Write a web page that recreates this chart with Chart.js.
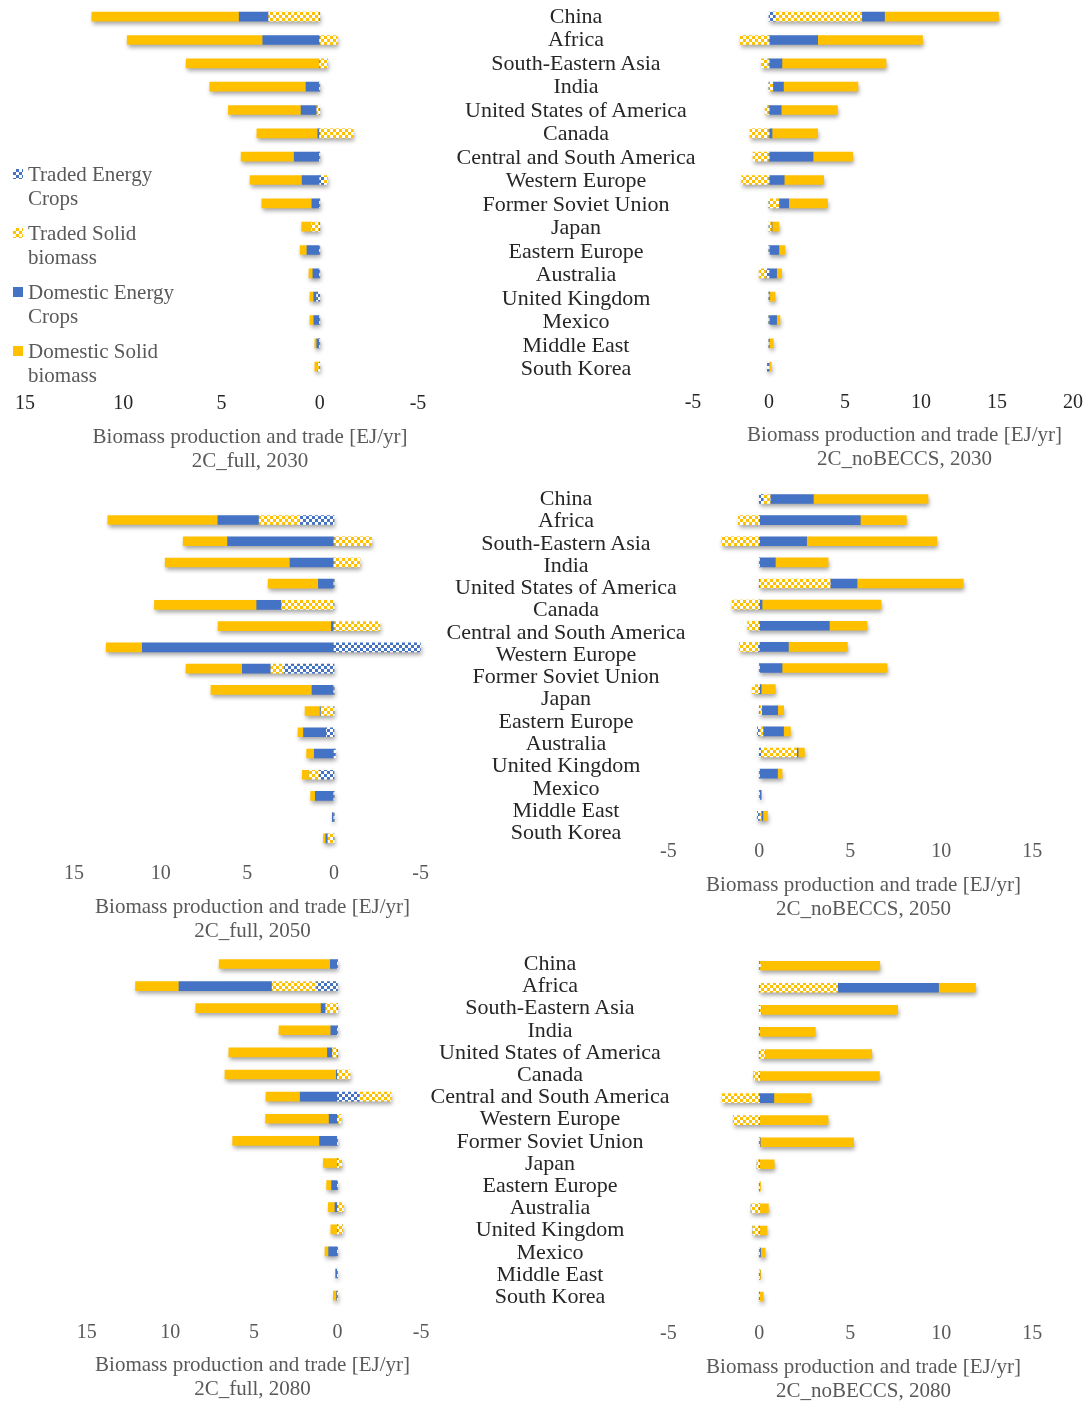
<!DOCTYPE html>
<html>
<head>
<meta charset="utf-8">
<script src="https://cdn.jsdelivr.net/npm/chart.js@4.4.1/dist/chart.umd.min.js"></script>
<style>
  html, body { margin: 0; padding: 0; background: #fff; }
  #page { position: relative; width: 1091px; height: 1405px; overflow: hidden; }
  #page canvas { position: absolute; }
  .region { position: absolute; width: 400px; text-align: center; font: 22px/24px "Liberation Serif", "Times New Roman", serif; color: #262626; white-space: nowrap; }
  .legend-item { position: absolute; left: 28px; font: 21px/24px "Liberation Serif", "Times New Roman", serif; color: #595959; }
  .legend-box { position: absolute; left: 13px; width: 10px; height: 10px; }
</style>
</head>
<body>
<div id="page"></div>
<script>
const regions = ["China", "Africa", "South-Eastern Asia", "India", "United States of America", "Canada",
  "Central and South America", "Western Europe", "Former Soviet Union", "Japan", "Eastern Europe",
  "Australia", "United Kingdom", "Mexico", "Middle East", "South Korea"];
const seriesNames = ["Traded Energy Crops", "Traded Solid biomass", "Domestic Energy Crops", "Domestic Solid biomass"];

// 2C_full, 2030
const full2030TradedEnergy   = [0, 0, 0, 0, 0, 0, 0, -0.2, 0, 0, 0, 0, 0.15, 0, 0, 0];
const full2030TradedSolid    = [2.6, -0.9, -0.4, 0, 0.15, -1.7, 0, -0.2, 0, 0.42, 0, 0, 0, 0, 0, 0.1];
const full2030DomesticEnergy = [1.5, 2.9, 0, 0.7, 0.8, 0.1, 1.3, 0.9, 0.4, 0, 0.65, 0.35, 0.15, 0.3, 0.15, 0];
const full2030DomesticSolid  = [7.5, 6.9, 6.8, 4.9, 3.7, 3.1, 2.7, 2.65, 2.55, 0.5, 0.35, 0.2, 0.2, 0.2, 0.1, 0.15];

// 2C_noBECCS, 2030
const nobeccs2030TradedEnergy   = [0.4, 0, 0, 0, 0, 0, 0, 0, 0, 0, 0, -0.15, 0, 0, 0, -0.1];
const nobeccs2030TradedSolid    = [5.7, -1.9, -0.5, 0.25, -0.25, -1.25, -1.05, -1.8, 0.65, 0.15, 0, -0.5, 0, 0, 0, 0];
const nobeccs2030DomesticEnergy = [1.5, 3.2, 0.85, 0.7, 0.8, 0.2, 2.9, 1.0, 0.65, 0.05, 0.65, 0.5, 0.05, 0.5, 0.03, 0];
const nobeccs2030DomesticSolid  = [7.5, 6.9, 6.85, 4.9, 3.7, 3.0, 2.6, 2.6, 2.55, 0.45, 0.4, 0.33, 0.35, 0.22, 0.25, 0.15];

// 2C_full, 2050
const full2050TradedEnergy   = [1.95, 0, 0, 0, 0, 0, -5.1, 2.87, 0, 0, 0.43, -0.07, 0.85, 0, 0, 0];
const full2050TradedSolid    = [2.37, -2.17, -1.5, 0, 3.02, -2.65, 0, 0.77, 0, 0.75, 0, 0, 0.58, 0, 0, 0.35];
const full2050DomesticEnergy = [2.38, 6.14, 2.54, 0.9, 1.44, 0.15, 11.06, 1.65, 1.27, 0.05, 1.33, 1.14, 0, 1.08, 0.1, 0.12];
const full2050DomesticSolid  = [6.35, 2.56, 7.2, 2.9, 5.9, 6.54, 2.08, 3.25, 5.83, 0.87, 0.32, 0.44, 0.4, 0.27, 0, 0.14];

// 2C_noBECCS, 2050
const nobeccs2050TradedEnergy   = [0.2, 0, 0, 0, 0, 0, 0, -0.05, 0, 0, 0, -0.1, 0.1, 0, 0, -0.1];
const nobeccs2050TradedSolid    = [0.4, -1.15, -2.07, 0, 3.9, -1.5, -0.64, -1.05, 0, -0.38, 0.13, 0.2, 1.95, 0, 0, 0.1];
const nobeccs2050DomesticEnergy = [2.37, 5.55, 2.6, 0.88, 1.47, 0.15, 3.85, 1.6, 1.25, 0.1, 0.88, 1.13, 0.08, 1.0, 0.1, 0.1];
const nobeccs2050DomesticSolid  = [6.3, 2.53, 7.15, 2.9, 5.84, 6.54, 2.07, 3.24, 5.77, 0.78, 0.33, 0.38, 0.35, 0.25, 0, 0.25];

// 2C_full, 2080
const full2080TradedEnergy   = [0, 1.25, 0, 0, 0, 0, -1.3, 0, 0, 0, 0, 0, 0, 0, 0, 0];
const full2080TradedSolid    = [0, 2.66, 0.7, 0, 0.3, -0.75, -1.9, -0.2, 0, -0.25, 0, -0.35, -0.3, 0, 0, 0];
const full2080DomesticEnergy = [0.43, 5.57, 0.28, 0.4, 0.3, 0.07, 2.23, 0.5, 1.07, 0, 0.35, 0.15, 0, 0.53, 0.1, 0.05];
const full2080DomesticSolid  = [6.65, 2.6, 7.5, 3.1, 5.9, 6.66, 2.05, 3.8, 5.2, 0.85, 0.3, 0.4, 0.4, 0.22, 0.02, 0.2];

// 2C_noBECCS, 2080
const nobeccs2080TradedEnergy   = [0, 0, 0, 0, 0, 0, 0, 0, 0, 0, 0, 0, 0, 0, 0, 0];
const nobeccs2080TradedSolid    = [0.07, 4.3, 0.1, 0, 0.3, -0.3, -2.05, -1.43, 0, -0.12, 0, -0.45, -0.36, 0, 0, 0];
const nobeccs2080DomesticEnergy = [0, 5.55, 0, 0, 0, 0, 0.8, 0, 0.05, 0, 0, 0, 0, 0.07, 0.03, 0];
const nobeccs2080DomesticSolid  = [6.55, 2.03, 7.5, 3.08, 5.88, 6.6, 2.05, 3.78, 5.13, 0.82, 0.07, 0.5, 0.42, 0.25, 0.05, 0.22];

const YELLOW = "#FFC000";
const BLUE = "#4472C4";
const SERIF = '"Liberation Serif", "Times New Roman", serif';

function checker(color) {
  const c = document.createElement("canvas");
  c.width = c.height = 6;
  const g = c.getContext("2d");
  g.fillStyle = "#fff";
  g.fillRect(0, 0, 6, 6);
  g.fillStyle = color;
  g.fillRect(0, 0, 3, 3);
  g.fillRect(3, 3, 3, 3);
  return g.createPattern(c, "repeat");
}
const fills = [checker(BLUE), checker(YELLOW), BLUE, YELLOW];

// soft grey drop shadow under each whole stacked bar
const barShadow = {
  id: "barShadow",
  beforeDatasetsDraw(chart) {
    const ctx = chart.ctx;
    const area = chart.chartArea;
    const metas = chart.getSortedVisibleDatasetMetas();
    ctx.save();
    ctx.filter = "blur(2px)";
    ctx.fillStyle = "rgba(0,0,0,0.35)";
    chart.data.labels.forEach((_, i) => {
      let lo = Infinity, hi = -Infinity, y = 0, h = 0;
      metas.forEach(m => {
        const el = m.data[i];
        if (!el || !chart.data.datasets[m.index].data[i]) return;
        lo = Math.min(lo, el.x, el.base);
        hi = Math.max(hi, el.x, el.base);
        y = el.y;
        h = el.height;
      });
      lo = Math.max(lo, area.left);
      hi = Math.min(hi, area.right);
      if (hi > lo) ctx.fillRect(lo + 1, y - h / 2 + 3, hi - lo, h);
    });
    ctx.restore();
  }
};

// titleX is where the two-line axis caption is centred
const panels = [
  { series: [full2030TradedEnergy, full2030TradedSolid, full2030DomesticEnergy, full2030DomesticSolid],
    caption: "2C_full, 2030", reverse: true, max: 15, tickColor: "#262626",
    left: 0, width: 500, plotLeft: 25, plotRight: 418, plotTop: 5, plotBottom: 378.3, tickY: 404, titleY: 437, titleX: 250 },
  { series: [nobeccs2030TradedEnergy, nobeccs2030TradedSolid, nobeccs2030DomesticEnergy, nobeccs2030DomesticSolid],
    caption: "2C_noBECCS, 2030", reverse: false, max: 20, tickColor: "#262626",
    left: 680, width: 449, plotLeft: 693, plotRight: 1073, plotTop: 5, plotBottom: 378.3, tickY: 403, titleY: 435, titleX: 904.5 },
  { series: [full2050TradedEnergy, full2050TradedSolid, full2050DomesticEnergy, full2050DomesticSolid],
    caption: "2C_full, 2050", reverse: true, max: 15, tickColor: "#595959",
    left: 0, width: 505, plotLeft: 74, plotRight: 420.7, plotTop: 509.4, plotBottom: 849, tickY: 874, titleY: 907, titleX: 252.5 },
  { series: [nobeccs2050TradedEnergy, nobeccs2050TradedSolid, nobeccs2050DomesticEnergy, nobeccs2050DomesticSolid],
    caption: "2C_noBECCS, 2050", reverse: false, max: 15, tickColor: "#595959",
    left: 650, width: 427, plotLeft: 668.3, plotRight: 1032.3, plotTop: 488.4, plotBottom: 826.5, tickY: 852, titleY: 885, titleX: 863.5 },
  { series: [full2080TradedEnergy, full2080TradedSolid, full2080DomesticEnergy, full2080DomesticSolid],
    caption: "2C_full, 2080", reverse: true, max: 15, tickColor: "#595959",
    left: 0, width: 505, plotLeft: 86.7, plotRight: 421.1, plotTop: 952.9, plotBottom: 1306.7, tickY: 1333, titleY: 1365, titleX: 252.5 },
  { series: [nobeccs2080TradedEnergy, nobeccs2080TradedSolid, nobeccs2080DomesticEnergy, nobeccs2080DomesticSolid],
    caption: "2C_noBECCS, 2080", reverse: false, max: 15, tickColor: "#595959",
    left: 650, width: 427, plotLeft: 668.3, plotRight: 1032.3, plotTop: 954.7, plotBottom: 1307.7, tickY: 1334, titleY: 1367, titleX: 863.5 }
];

const page = document.getElementById("page");

panels.forEach(p => {
  const top = Math.floor(p.plotTop - 5);
  const padTop = p.plotTop - top;
  // tick text sits in a tall line box so no tick padding is needed
  const tickLine = 2 * (p.tickY - p.plotBottom);
  const axisH = tickLine;
  const titlePad = p.titleY - (p.plotBottom + axisH) - 12;
  const used = p.plotBottom - top + axisH + titlePad + 48;
  const height = Math.ceil(used);

  // an empty y axis on one side offsets the caption from the plot centre
  const gap = 2 * p.titleX - p.plotLeft - p.plotRight;
  const gapSide = gap >= 0 ? "right" : "left";
  const gapW = Math.abs(gap);
  const padLeft = p.plotLeft - p.left - (gapSide === "left" ? gapW : 0);
  const padRight = p.left + p.width - p.plotRight - (gapSide === "right" ? gapW : 0);

  const canvas = document.createElement("canvas");
  canvas.width = p.width;
  canvas.height = height;
  canvas.style.left = p.left + "px";
  canvas.style.top = top + "px";
  page.appendChild(canvas);

  new Chart(canvas.getContext("2d"), {
    type: "bar",
    data: {
      labels: regions,
      datasets: seriesNames.map((name, k) => ({
        label: name,
        data: p.series[k],
        backgroundColor: fills[k],
        borderWidth: 0,
        barThickness: 9
      }))
    },
    options: {
      indexAxis: "y",
      responsive: false,
      animation: false,
      layout: {
        padding: { left: padLeft, right: padRight, top: padTop, bottom: height - used }
      },
      scales: {
        x: {
          stacked: true,
          reverse: p.reverse,
          min: -5,
          max: p.max,
          grid: { display: false, drawTicks: false },
          border: { display: false },
          ticks: {
            stepSize: 5,
            maxRotation: 0,
            padding: 0,
            color: p.tickColor,
            font: { family: SERIF, size: 20, lineHeight: tickLine + "px" }
          },
          afterFit(scale) { scale.height = axisH; }
        },
        y: {
          stacked: true,
          position: gapSide,
          grid: { display: false, drawTicks: false },
          border: { display: false },
          ticks: { display: false },
          afterFit(scale) { scale.width = gapW; }
        }
      },
      plugins: {
        legend: { display: false },
        tooltip: { enabled: false },
        title: {
          display: true,
          position: "bottom",
          text: ["Biomass production and trade [EJ/yr]", p.caption],
          color: "#595959",
          font: { family: SERIF, size: 21, weight: "normal", lineHeight: "24px" },
          padding: { top: titlePad, bottom: 0 }
        }
      }
    },
    plugins: [barShadow]
  });
});

// region names in the middle column, one block per row of panels
const labelRows = [
  { centerX: 576, firstY: 16, step: 23.47 },
  { centerX: 566, firstY: 498, step: 22.27 },
  { centerX: 550, firstY: 963, step: 22.2 }
];
labelRows.forEach(row => {
  regions.forEach((name, i) => {
    const d = document.createElement("div");
    d.className = "region";
    d.textContent = name;
    d.style.left = (row.centerX - 200) + "px";
    d.style.top = (row.firstY + i * row.step - 12) + "px";
    page.appendChild(d);
  });
});

// legend, top left
const legendRows = [
  { lines: ["Traded Energy", "Crops"], swatch: "repeating-conic-gradient(" + BLUE + " 0 25%, #fff 0 50%) 0 0 / 6px 6px", y: 174 },
  { lines: ["Traded Solid", "biomass"], swatch: "repeating-conic-gradient(" + YELLOW + " 0 25%, #fff 0 50%) 0 0 / 6px 6px", y: 233 },
  { lines: ["Domestic Energy", "Crops"], swatch: BLUE, y: 292 },
  { lines: ["Domestic Solid", "biomass"], swatch: YELLOW, y: 351 }
];
legendRows.forEach(item => {
  const box = document.createElement("div");
  box.className = "legend-box";
  box.style.top = (item.y - 5) + "px";
  box.style.background = item.swatch;
  page.appendChild(box);
  const t = document.createElement("div");
  t.className = "legend-item";
  t.style.top = (item.y - 12) + "px";
  t.innerHTML = item.lines.join("<br>");
  page.appendChild(t);
});
</script>
</body>
</html>
